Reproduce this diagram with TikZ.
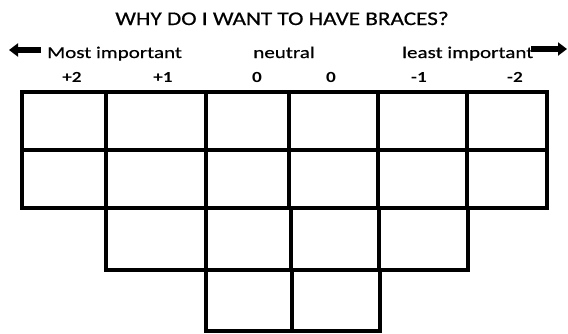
\documentclass[tikz,border=0pt]{standalone}
\usepackage{fontspec}
\setmainfont{Carlito}
\newfontfamily\titlefont[FakeStretch=1.2,FakeBold=0.6]{Carlito}
\newfontfamily\labelfont[FakeStretch=1.28,FakeBold=0.5]{Carlito}
\newfontfamily\numfont[FakeStretch=1.25]{Carlito}
\usetikzlibrary{arrows.meta}
\tikzset{
  cellbox/.style={draw, line width=3.2bp, inner sep=0pt, outer sep=0pt},
  hdr/.style={anchor=base, inner sep=0pt, font=\labelfont\fontsize{16.5}{18}\selectfont},
  num/.style={anchor=base, inner sep=0pt, font=\numfont\bfseries\fontsize{15.5}{18}\selectfont},
  bigarrow/.style={line width=5.5bp, -{Triangle[length=9bp,width=13bp]}}
}
\newcommand\mkcell[5]{%
  \node[cellbox, minimum width={(#4-#2)*1bp}, minimum height={(#5-#3)*1bp}]
    (#1) at ({(#2+#4)/2},{(#3+#5)/2}) {};}
\begin{document}
\begin{tikzpicture}[x=1bp,y=-1bp]
\useasboundingbox (0,0) rectangle (568,333);
% title
\node[anchor=base, inner sep=0pt, font=\titlefont\fontsize{19.4}{22}\selectfont] (title) at (282,25) {WHY DO I WANT TO HAVE BRACES?};
% header
\node[hdr, anchor=base west] (most) at (47,58) {Most important};
\node[hdr] (neutral) at (284,58) {neutral};
\node[hdr, anchor=base west] (least) at (402,58) {least important};
\coordinate (la1) at (41,50);
\coordinate (la2) at (9,50);
\coordinate (ra1) at (531,49);
\coordinate (ra2) at (567,49);
\draw[bigarrow] (la1) -- (la2);
\draw[bigarrow] (ra1) -- (ra2);
% numbers
\node[num] (n1) at (72,82) {+2};
\node[num] (n2) at (163,82) {+1};
\node[num] (n3) at (257,82) {0};
\node[num] (n4) at (331,82) {0};
\node[num] (n5) at (419,82) {-1};
\node[num] (n6) at (515,82) {-2};
% row 1
\mkcell{a1}{22}{92}{106}{150}
\mkcell{a2}{106}{92}{206}{150}
\mkcell{a3}{206}{92}{289}{150}
\mkcell{a4}{289}{92}{378}{150}
\mkcell{a5}{378}{92}{467}{150}
\mkcell{a6}{467}{92}{547}{150}
% row 2
\mkcell{b1}{22}{150}{106}{208}
\mkcell{b2}{106}{150}{206}{208}
\mkcell{b3}{206}{150}{289}{208}
\mkcell{b4}{289}{150}{378}{208}
\mkcell{b5}{378}{150}{467}{208}
\mkcell{b6}{467}{150}{547}{208}
% row 3
\mkcell{c1}{106}{208}{206}{270}
\mkcell{c2}{206}{208}{291}{270}
\mkcell{c3}{291}{208}{379}{270}
\mkcell{c4}{379}{208}{468}{270}
% row 4
\mkcell{d1}{206}{270}{292}{331}
\mkcell{d2}{292}{270}{380}{331}
\end{tikzpicture}
\end{document}
